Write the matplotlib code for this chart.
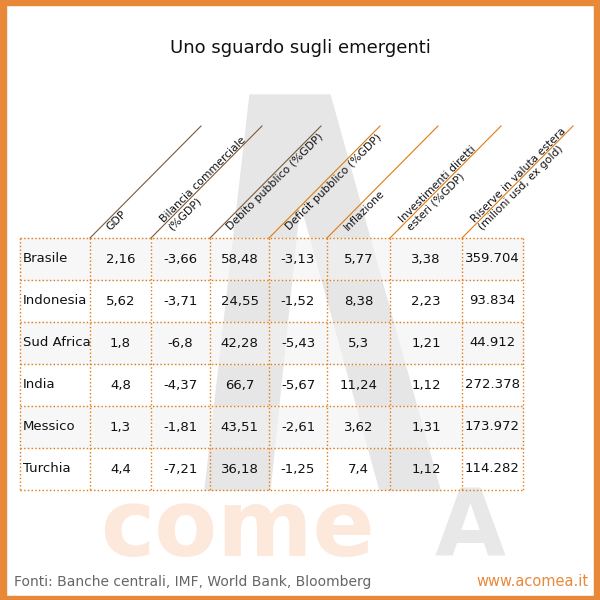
import matplotlib
matplotlib.use("Agg")
import matplotlib.pyplot as plt
from matplotlib.patches import Rectangle, Polygon

title = "Uno sguardo sugli emergenti"
headers = ["GDP", "Bilancia commerciale\n(%GDP)", "Debito pubblico (%GDP)", "Deficit pubblico (%GDP)",
           "Inflazione", "Investimenti diretti\nesteri (%GDP)", "Riserve in valuta estera\n(milioni usd, ex gold)"]
countries = ["Brasile", "Indonesia", "Sud Africa", "India", "Messico", "Turchia"]
gdp = ["2,16", "5,62", "1,8", "4,8", "1,3", "4,4"]
bilancia = ["-3,66", "-3,71", "-6,8", "-4,37", "-1,81", "-7,21"]
debito = ["58,48", "24,55", "42,28", "66,7", "43,51", "36,18"]
deficit = ["-3,13", "-1,52", "-5,43", "-5,67", "-2,61", "-1,25"]
inflazione = ["5,77", "8,38", "5,3", "11,24", "3,62", "7,4"]
investimenti = ["3,38", "2,23", "1,21", "1,12", "1,31", "1,12"]
riserve = ["359.704", "93.834", "44.912", "272.378", "173.972", "114.282"]
source = "Fonti: Banche centrali, IMF, World Bank, Bloomberg"
site = "www.acomea.it"

cols = [gdp, bilancia, debito, deficit, inflazione, investimenti, riserve]
xs = [20, 90, 151, 210, 269, 327, 390, 462, 523]
y0, rh = 238, 42
OR = "#e07a10"

fig = plt.figure(figsize=(6, 6), dpi=100)
ax = fig.add_axes([0, 0, 1, 1])
ax.set_xlim(0, 600); ax.set_ylim(600, 0); ax.axis("off")

for r in [(0, 0, 6, 600), (0, 0, 600, 5), (594, 0, 6, 600), (0, 596, 600, 4)]:
    ax.add_patch(Rectangle(r[:2], r[2], r[3], color="#e8893a", zorder=5))

# watermark
ax.add_patch(Polygon([(205, 490), (250, 95), (330, 95), (440, 490), (380, 490), (300, 200), (270, 490)],
                     closed=True, color="#e6e6e6", zorder=0))
ax.text(100, 530, "come", fontsize=66, fontweight="bold", color="#fde8dc", ha="left", va="center",
        family="DejaVu Sans", zorder=0)
ax.text(505, 530, "A", fontsize=66, fontweight="bold", color="#e8e8e8", ha="right", va="center",
        family="DejaVu Sans", zorder=0)

ax.text(300, 48, title, fontsize=13, ha="center", va="center", color="#111", family="DejaVu Sans")

for i in range(len(countries)):
    if i % 2 == 0:
        ax.add_patch(Rectangle((xs[0], y0 + i * rh), xs[-1] - xs[0], rh, color="#f2f2f2", alpha=0.6, zorder=1))

for x in xs:
    ax.plot([x, x], [y0, y0 + 6 * rh], ls=":", color=OR, lw=1, zorder=3)
for j in range(7):
    ax.plot([xs[0], xs[-1]], [y0 + j * rh] * 2, ls=":", color=OR, lw=1, zorder=3)

for k in range(len(headers)):
    x = xs[k + 1]
    col = "#7a5a3a" if k < 3 else OR
    ax.plot([x, x + 111], [y0, y0 - 112], color=col, lw=0.8, zorder=3)
    ax.text(x + 22, y0 - 6, headers[k], rotation=45, rotation_mode="anchor", ha="left", va="bottom",
            fontsize=7.8, color="#111", linespacing=1.1, zorder=4)

for i, c in enumerate(countries):
    yc = y0 + i * rh + rh / 2
    ax.text(xs[0] + 3, yc, c, fontsize=9.5, va="center", ha="left", color="#111", zorder=4)
    for k, col in enumerate(cols):
        ax.text((xs[k + 1] + xs[k + 2]) / 2, yc, col[i], fontsize=9.5, va="center", ha="center",
                color="#111", zorder=4)

ax.text(14, 582, source, fontsize=10, color="#666", va="center", ha="left")
ax.text(589, 582, site, fontsize=10.5, color="#e8893a", va="center", ha="right")

fig.savefig("out.png", dpi=100)
